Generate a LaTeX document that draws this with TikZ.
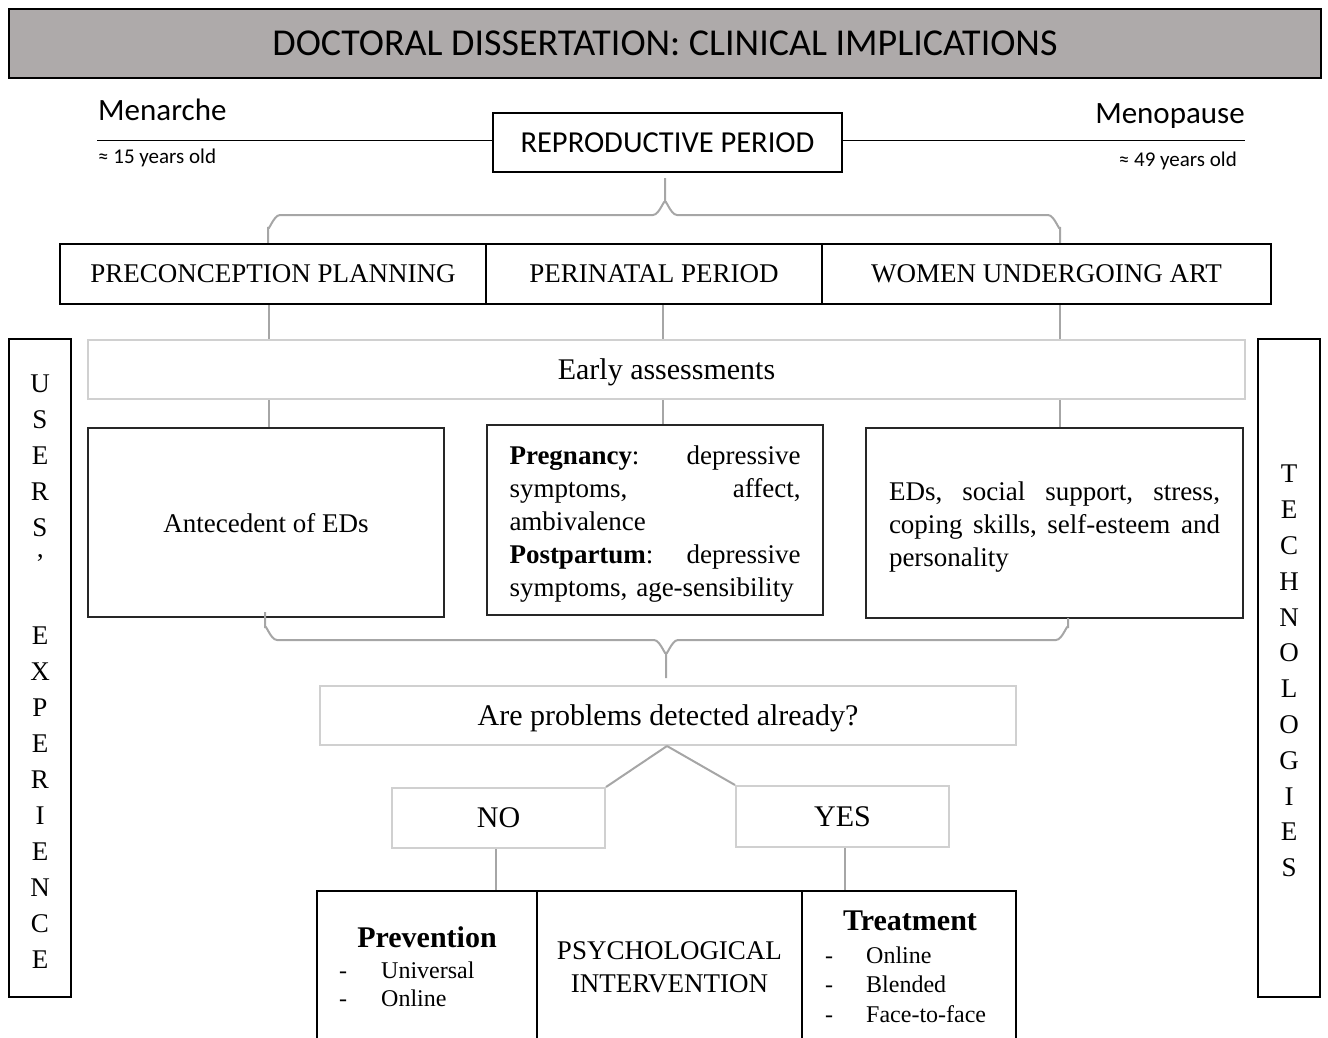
\documentclass[tikz,border=0pt]{standalone}
\usepackage{fontspec}
\setmainfont{Liberation Serif}
\newfontfamily\calib{Carlito}
\definecolor{titlegray}{HTML}{AEAAAA}
\definecolor{linegray}{HTML}{A6A6A6}
\definecolor{lightgray}{HTML}{D0D0D0}
\begin{document}
\begin{tikzpicture}[x=1pt,y=-1pt,
  thickbox/.style={draw=black,line width=2pt,inner sep=0pt},
  thinbox/.style={draw=black!85,line width=1.2pt,inner sep=0pt},
  lightbox/.style={draw=lightgray,line width=2pt,inner sep=0pt},
  gl/.style={draw=linegray,line width=2pt},
  tl/.style={draw=black,line width=1pt},
  f27/.style={font=\fontsize{27}{33}\selectfont},
  f30/.style={font=\fontsize{30}{36}\selectfont},
  f24/.style={font=\fontsize{24}{29}\selectfont},
  txt/.style={inner sep=0pt}]
\useasboundingbox (0,0) rectangle (1328,1037);
% title
\node[thickbox,fill=titlegray,minimum width=1312pt,minimum height=69pt,font=\calib\fontsize{38}{44}\selectfont] (title) at (665,43.5) {DOCTORAL DISSERTATION: CLINICAL IMPLICATIONS};
% reproductive period
\node[thinbox,draw=black,minimum width=349pt,minimum height=59pt,font=\calib\fontsize{30.5}{36}\selectfont] (rp) at (667.5,142.5) {REPRODUCTIVE PERIOD};
\node[txt,anchor=base west,font=\calib\fontsize{31}{36}\selectfont] (men) at (98,120) {Menarche};
\node[txt,anchor=base west,font=\calib\fontsize{21}{25}\selectfont] (age1) at (98,163) {≈ 15 years old};
\node[txt,anchor=base east,font=\calib\fontsize{31}{36}\selectfont] (meno) at (1245,123) {Menopause};
\node[txt,anchor=base east,font=\calib\fontsize{21}{25}\selectfont] (age2) at (1237,166) {≈ 49 years old};
\coordinate (tlL) at (97,140);
\coordinate (tlR) at (1245,140);
\draw[tl] (tlL) -- (tlL -| rp.west);
\draw[tl] (rp.east |- tlR) -- (tlR);
% upper brace
\draw[gl] (665,178) -- (665,203) to[out=90,in=0] (653,215) -- (280,215) to[out=180,in=-90] (268,227) -- (268,244);
\draw[gl] (665,203) to[out=90,in=180] (677,215) -- (1048,215) to[out=0,in=-90] (1060,227) -- (1060,244);
% row
\node[thickbox,minimum width=426pt,minimum height=60pt,f27,text depth=0pt] (pp) at (273,274) {PRECONCEPTION PLANNING};
\node[thickbox,minimum width=336pt,minimum height=60pt,f27,text depth=0pt] (per) at (654,274) {PERINATAL PERIOD};
\node[thickbox,minimum width=449pt,minimum height=60pt,f27,text depth=0pt] (art) at (1046.5,274) {WOMEN UNDERGOING ART};
% early assessments
\node[lightbox,minimum width=1157pt,minimum height=59pt,f30,text depth=0pt] (ea) at (666.5,369.5) {Early assessments};
\draw[gl] (269,0 |- pp.south) -- (269,0 |- ea.north);
\draw[gl] (663,0 |- per.south) -- (663,0 |- ea.north);
\draw[gl] (1060,0 |- art.south) -- (1060,0 |- ea.north);
% three boxes
\node[thinbox,minimum width=356pt,minimum height=189pt,f27,text depth=0pt] (bA) at (266,522.5) {Antecedent of EDs};
\node[thinbox,minimum width=336pt,minimum height=190pt] (bB) at (655,520) {};
\node[txt,font=\fontsize{27}{33.2}\selectfont,text width=291pt,align=left] (bBt) at (655,524)
 {\textbf{Pregnancy}:\hfill depressive\\ symptoms,\hfill affect,\\ ambivalence\\ \textbf{Postpartum}:\hfill depressive\\ symptoms, age-sensibility};
\node[thinbox,minimum width=377pt,minimum height=190pt] (bC) at (1054.5,523) {};
\node[txt,font=\fontsize{27}{33.2}\selectfont,text width=331pt,align=left] (bCt) at (1054.5,527)
 {EDs,\hfill social\hfill support,\hfill stress,\\ coping\hfill skills,\hfill self-esteem\hfill and\\ personality};
\draw[gl] (269,0 |- ea.south) -- (269,0 |- bA.north);
\draw[gl] (663,0 |- ea.south) -- (663,0 |- bB.north);
\draw[gl] (1060,0 |- ea.south) -- (1060,0 |- bC.north);
% side boxes
\node[thickbox,minimum width=62pt,minimum height=658pt] (sL) at (40,668) {};
\node[thickbox,minimum width=62pt,minimum height=658pt] (sR) at (1289,668) {};
\node[txt,align=center,font=\fontsize{27}{36}\selectfont] (sLt) at (40,672)
 {U\\S\\E\\R\\S\\’\\\mbox{}\\E\\X\\P\\E\\R\\I\\E\\N\\C\\E};
\node[txt,align=center,font=\fontsize{27}{35.8}\selectfont] (sRt) at (1289,671)
 {T\\E\\C\\H\\N\\O\\L\\O\\G\\I\\E\\S};
% lower brace
\draw[gl] (265,612) -- (265,628) to[out=90,in=180] (277,640) -- (654,640) to[out=0,in=-90] (666,652) -- (666,678);
\draw[gl] (666,652) to[out=-90,in=180] (678,640) -- (1056,640) to[out=0,in=90] (1068,628) -- (1068,618);
% question
\node[lightbox,minimum width=696pt,minimum height=59pt,f30,text depth=0pt] (q) at (668,715.5) {Are problems detected already?};
\node[lightbox,minimum width=213pt,minimum height=60pt,f30,text depth=0pt] (no) at (498.5,818) {NO};
\node[lightbox,minimum width=213pt,minimum height=61pt,f30,text depth=0pt] (yes) at (842.5,816.5) {YES};
\draw[gl] (667,0 |- q.south) -- (no.north east);
\draw[gl] (667,0 |- q.south) -- (yes.north west);
% bottom boxes
\node[thickbox,minimum width=220pt,minimum height=160pt] (prev) at (427,971) {};
\node[thickbox,minimum width=265pt,minimum height=160pt] (psy) at (669.5,971) {};
\node[thickbox,minimum width=214pt,minimum height=160pt] (treat) at (909,971) {};
\draw[gl] (496,0 |- no.south) -- (496,0 |- prev.north);
\draw[gl] (845,0 |- yes.south) -- (845,0 |- treat.north);
\node[txt,f27,align=center] (psyt) at (669.5,967) {PSYCHOLOGICAL\\INTERVENTION};
\node[txt,f30] (prevt) at (427,937) {\textbf{Prevention}};
\node[txt,f24,anchor=base west] (p1d) at (339,978) {-};
\node[txt,f24,anchor=base west] (p1) at (381,978) {Universal};
\node[txt,f24,anchor=base west] (p2d) at (339,1006) {-};
\node[txt,f24,anchor=base west] (p2) at (381,1006) {Online};
\node[txt,f30] (treatt) at (910,921) {\textbf{Treatment}};
\node[txt,f24,anchor=base west] (t1d) at (825,963) {-};
\node[txt,f24,anchor=base west] (t1) at (866,963) {Online};
\node[txt,f24,anchor=base west] (t2d) at (825,992) {-};
\node[txt,f24,anchor=base west] (t2) at (866,992) {Blended};
\node[txt,f24,anchor=base west] (t3d) at (825,1022) {-};
\node[txt,f24,anchor=base west] (t3) at (866,1022) {Face-to-face};
\end{tikzpicture}
\end{document}
